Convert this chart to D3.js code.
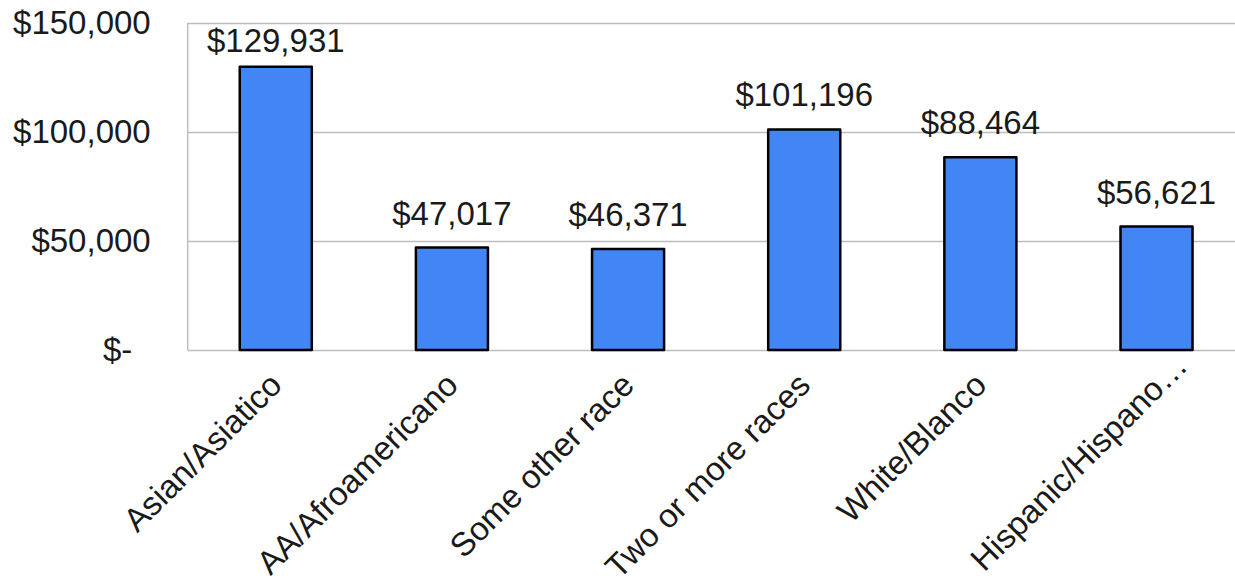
<!DOCTYPE html>
<html>
<head>
<meta charset="utf-8">
<script src="https://cdn.jsdelivr.net/npm/d3@7"></script>
<style>
  body { margin: 0; background: #fff; }
  text { font-family: "Liberation Sans", Arial, sans-serif; fill: #1a1a1a; }
</style>
</head>
<body>
<svg id="chart"></svg>
<script>
// Chart data
const categories = [
  "Asian/Asiatico",
  "AA/Afroamericano",
  "Some other race",
  "Two or more races",
  "White/Blanco",
  "Hispanic/Hispano…"
];
const incomes = [129931, 47017, 46371, 101196, 88464, 56621];
const tickValues = [0, 50000, 100000, 150000];

const width = 1235;
const height = 587;
const plotLeft = 187.7;
const plotRight = 1244.6;
const plotTop = 23;
const plotBottom = 350;

const svg = d3.select("#chart").attr("width", width).attr("height", height);

// Scales
const xScale = d3
  .scaleBand()
  .domain(categories)
  .range([plotLeft, plotRight])
  .paddingInner(0.591)
  .paddingOuter(0.2955);

const yScale = d3.scaleLinear().domain([0, 150000]).range([plotBottom, plotTop]);

const money = d3.format("$,");

// Gridlines + y labels
const yAxis = d3
  .axisLeft(yScale)
  .tickValues(tickValues)
  .tickSize(-(plotRight - plotLeft))
  .tickPadding(37)
  .tickFormat((d) => (d === 0 ? "$-\u00a0\u00a0" : money(d)));

const gy = svg
  .append("g")
  .attr("transform", "translate(" + plotLeft + ",0)")
  .call(yAxis);
gy.select(".domain").remove();
gy.selectAll(".tick line").attr("stroke", "#bdbdbd").attr("stroke-width", 1.5);
gy.selectAll(".tick text")
  .attr("font-size", 33)
  .attr("fill", "#1a1a1a")
  .style("font-family", "'Liberation Sans', Arial, sans-serif");

// Left border of plot area
svg
  .append("line")
  .attr("x1", plotLeft)
  .attr("x2", plotLeft)
  .attr("y1", plotTop)
  .attr("y2", plotBottom)
  .attr("stroke", "#bdbdbd")
  .attr("stroke-width", 1.5);

// Bars
svg
  .selectAll("rect.bar")
  .data(incomes)
  .enter()
  .append("rect")
  .attr("class", "bar")
  .attr("x", (d, i) => xScale(categories[i]))
  .attr("y", (d) => yScale(d))
  .attr("width", xScale.bandwidth())
  .attr("height", (d) => plotBottom - yScale(d))
  .attr("fill", "#4285f4")
  .attr("stroke", "#000")
  .attr("stroke-width", 2.5)
  .attr("stroke-linejoin", "round");

// Value labels
svg
  .selectAll("text.value")
  .data(incomes)
  .enter()
  .append("text")
  .attr("class", "value")
  .attr("x", (d, i) => xScale(categories[i]) + xScale.bandwidth() / 2)
  .attr("y", (d) => Math.max(yScale(d) - 23, plotTop + 29))
  .attr("text-anchor", "middle")
  .attr("font-size", 33)
  .text((d) => money(d));

// Category labels, rotated; a trailing ellipsis hangs past the anchor
svg
  .selectAll("text.cat")
  .data(categories)
  .enter()
  .append("text")
  .attr("class", "cat")
  .attr("text-anchor", "end")
  .attr("font-size", 33)
  .attr(
    "transform",
    (d) =>
      "translate(" + (xScale(d) + xScale.bandwidth() / 2 + 8) + "," + 387 + ") rotate(-45)"
  )
  .text((d) => d)
  .each(function (d) {
    if (d.endsWith("…")) {
      const w = this.getSubStringLength(d.length - 1, 1);
      d3.select(this).attr("x", w - 2).attr("y", 4);
    }
  });
</script>
</body>
</html>
